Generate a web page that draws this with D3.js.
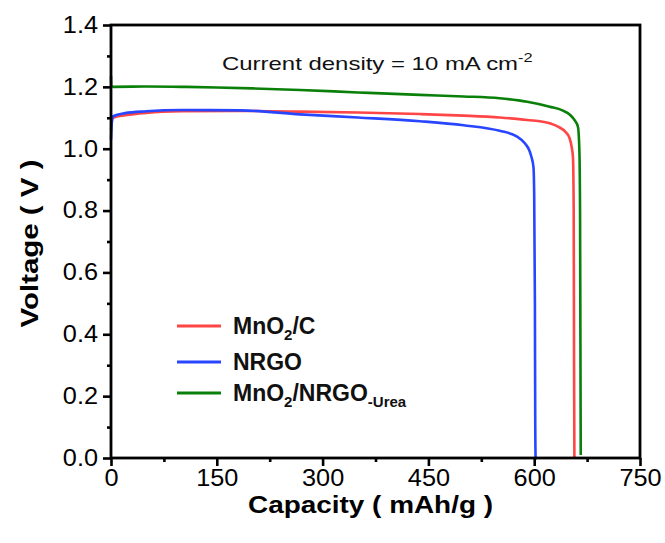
<!DOCTYPE html>
<meta charset="utf-8">
<script src="https://d3js.org/d3.v7.min.js"></script>
<style>body{margin:0;background:#fff}</style>
<div id="chart"></div>
<script>
// values
const capMnO2C  = [0, 1, 3, 20, 50, 100, 183, 268, 350, 438, 500, 551, 590, 622, 635, 644, 650, 653, 655, 656, 656.5, 657];
const voltMnO2C = [1.06, 1.09, 1.10, 1.108, 1.116, 1.121, 1.122, 1.120, 1.117, 1.112, 1.107, 1.101, 1.093, 1.082, 1.070, 1.055, 1.035, 1.007, 0.97, 0.80, 0.30, 0.0];

const capNRGO  = [0, 1, 3, 20, 50, 100, 183, 268, 350, 438, 500, 551, 575, 587, 593, 596, 599, 600, 601, 601.5, 602];
const voltNRGO = [1.03, 1.08, 1.105, 1.115, 1.121, 1.125, 1.124, 1.111, 1.101, 1.089, 1.076, 1.058, 1.040, 1.017, 0.995, 0.974, 0.94, 0.85, 0.50, 0.10, -0.005];

const capUrea  = [0, 0.3, 3, 50, 100, 150, 200, 268, 350, 438, 500, 551, 590, 622, 640, 651, 658, 662, 664, 665, 665.5, 666];
const voltUrea = [1.235, 1.205, 1.200, 1.201, 1.200, 1.198, 1.195, 1.190, 1.182, 1.174, 1.169, 1.163, 1.152, 1.136, 1.124, 1.109, 1.09, 1.071, 1.0, 0.8, 0.4, 0.01];

const seriesLabels = ["MnO2/C", "NRGO", "MnO2/NRGO-Urea"];
const seriesColors = ["#ff4545", "#2846ff", "#0a800a"];

const xTicks = [0, 150, 300, 450, 600, 750];
const xMinor = [75, 225, 375, 525, 675];
const yTicks = [0, 0.2, 0.4, 0.6, 0.8, 1.0, 1.2, 1.4];
const yMinor = [0.1, 0.3, 0.5, 0.7, 0.9, 1.1, 1.3];

const margin = {top: 25, right: 25, bottom: 85, left: 111},
    width = 529,
    height = 433;

const svg = d3.select("#chart")
  .append("svg")
    .attr("width", 665)
    .attr("height", 543)
  .append("g")
    .attr("transform", `translate(${margin.left},${margin.top})`);

const x = d3.scaleLinear().domain([0, 750]).range([0, width]);
const y = d3.scaleLinear().domain([0, 1.4]).range([height, 0]);

// stretch text horizontally like the original
function stretch(sel, k) {
  sel.each(function() {
    const w = this.getComputedTextLength();
    d3.select(this).attr("textLength", w * k).attr("lengthAdjust", "spacingAndGlyphs");
  });
}

// curves
const series = [
  {cap: capMnO2C, volt: voltMnO2C},
  {cap: capNRGO, volt: voltNRGO},
  {cap: capUrea, volt: voltUrea}
];
const line = d3.line()
  .x(d => x(d[0]))
  .y(d => y(d[1]))
  .curve(d3.curveMonotoneX);

series.forEach((s, i) => {
  svg.append("path")
    .datum(s.cap.map((c, j) => [c, s.volt[j]]))
    .attr("fill", "none")
    .attr("stroke", seriesColors[i])
    .attr("stroke-width", 2.6)
    .attr("d", line);
});

// axes
const xAxis = svg.append("g")
  .attr("transform", `translate(0,${height})`)
  .call(d3.axisBottom(x).tickValues(xTicks).tickSize(8).tickSizeOuter(0).tickPadding(4));
svg.append("g")
  .attr("transform", `translate(0,${height})`)
  .call(d3.axisBottom(x).tickValues(xMinor).tickSize(4).tickFormat(""));
const yAxis = svg.append("g")
  .call(d3.axisLeft(y).tickValues(yTicks).tickSize(8).tickSizeOuter(0).tickPadding(5).tickFormat(d3.format(".1f")));
svg.append("g")
  .call(d3.axisLeft(y).tickValues(yMinor).tickSize(4).tickFormat(""));

svg.selectAll(".domain").remove();
svg.selectAll(".tick line").attr("stroke", "#000").attr("stroke-width", 2.6);
svg.selectAll(".tick text")
  .attr("font-family", "Liberation Sans, Arial, sans-serif")
  .attr("font-size", 23)
  .attr("fill", "#000");
stretch(xAxis.selectAll(".tick text"), 1.1);
stretch(yAxis.selectAll(".tick text"), 1.1);

// frame
svg.append("rect")
  .attr("width", width)
  .attr("height", height)
  .attr("fill", "none")
  .attr("stroke", "#000")
  .attr("stroke-width", 2.8);

// axis titles
svg.append("text")
  .attr("x", width / 2 - 5)
  .attr("y", height + 55)
  .attr("text-anchor", "middle")
  .attr("font-family", "Liberation Sans, Arial, sans-serif")
  .attr("font-weight", "bold")
  .attr("font-size", 24)
  .attr("textLength", 245)
  .attr("lengthAdjust", "spacingAndGlyphs")
  .text("Capacity ( mAh/g )");

svg.append("text")
  .attr("transform", `translate(${-111 + 38},${height / 2 + 2}) rotate(-90)`)
  .attr("text-anchor", "middle")
  .attr("font-family", "Liberation Sans, Arial, sans-serif")
  .attr("font-weight", "bold")
  .attr("font-size", 24)
  .attr("textLength", 168)
  .attr("lengthAdjust", "spacingAndGlyphs")
  .text("Voltage ( V )");

// annotation
const note = svg.append("text")
  .attr("x", 222 - margin.left)
  .attr("y", 70 - margin.top)
  .attr("font-family", "Liberation Sans, Arial, sans-serif")
  .attr("font-size", 19)
  .attr("fill", "#111");
note.append("tspan").text("Current density = 10 mA cm");
note.append("tspan").attr("font-size", 13).attr("dy", -8).text("-2");
stretch(note, 1.26);

// legend
const legendY = [326, 362, 393].map(v => v - margin.top);
const legend = svg.append("g");
seriesLabels.forEach((lab, i) => {
  const g = legend.append("g").attr("transform", `translate(${177 - margin.left},${legendY[i]})`);
  g.append("line")
    .attr("x1", 0).attr("x2", 44)
    .attr("stroke", seriesColors[i])
    .attr("stroke-width", 2.8);
  const t = g.append("text")
    .attr("x", 56)
    .attr("y", 8)
    .attr("font-family", "Liberation Sans, Arial, sans-serif")
    .attr("font-weight", "bold")
    .attr("font-size", 23)
    .attr("fill", "#111");
  if (i === 0) {
    t.append("tspan").text("MnO");
    t.append("tspan").attr("font-size", 15).attr("dy", 6).text("2");
    t.append("tspan").attr("dy", -6).text("/C");
  } else if (i === 1) {
    t.text("NRGO");
  } else {
    t.append("tspan").text("MnO");
    t.append("tspan").attr("font-size", 15).attr("dy", 6).text("2");
    t.append("tspan").attr("dy", -6).text("/NRGO");
    t.append("tspan").attr("font-size", 15).attr("dy", 6).text("-Urea");
  }
});
</script>
